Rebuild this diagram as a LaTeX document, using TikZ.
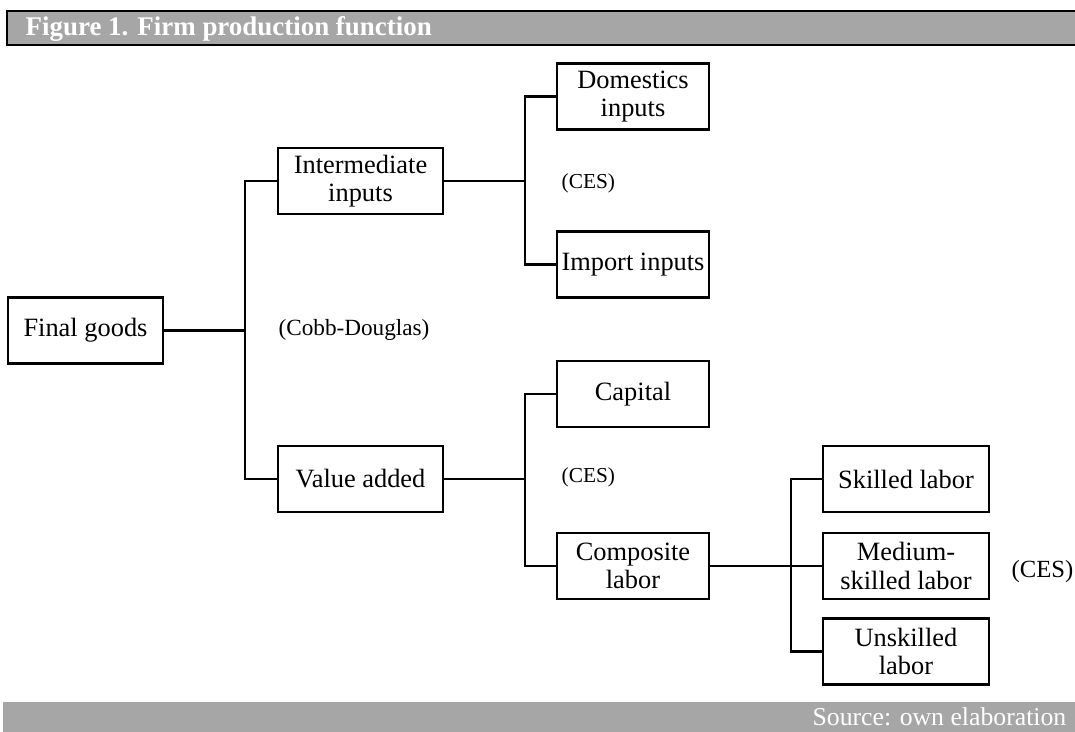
\documentclass[tikz,border=0pt]{standalone}
\usepackage{fontspec}
\setmainfont{Liberation Serif}
\usetikzlibrary{positioning}
\definecolor{bargray}{HTML}{A6A6A6}

\begin{document}
\begin{tikzpicture}[x=0.75pt,y=-0.75pt,
		box/.style={draw,line width=1.6pt,align=center,minimum height=49.5pt,inner sep=0.5pt,
			font=\fontsize{19.8}{21.5}\selectfont},
		widebox/.style={box,minimum width=124pt},
		smallbox/.style={box,minimum width=114pt},
		lbl/.style={font=\fontsize{16}{18}\selectfont},
		link/.style={line width=1.6pt}]
		\useasboundingbox (0,0) rectangle (1075,732);

		% title and source bars
		\fill[bargray] (7,11) rectangle (1075,45);
		\draw[line width=2pt] (1075,11) -- (7,11) -- (7,45) -- (1075,45);
		\node[anchor=west,text=white,font=\fontsize{20.2}{22}\selectfont\bfseries] (title) at (21,28.5) {Figure 1. Firm production function};
		\fill[bargray] (3,702) rectangle (1075,732);
		\node[anchor=east,text=white,font=\fontsize{19.3}{21}\selectfont] (source) at (1071,717) {Source: own elaboration};

		% boxes
		\node[box,minimum width=116pt] (final) at (85.5,330.5) {Final goods};
		\node[widebox] (inter) at (360.5,181) {Intermediate\\inputs};
		\node[widebox] (value) at (360.5,479) {Value added};
		\node[smallbox] (dom) at (633,96.5) {Domestics\\inputs};
		\node[smallbox] (imp) at (633,264.5) {Import inputs};
		\node[smallbox] (cap) at (633,394) {Capital};
		\node[smallbox] (comp) at (633,566) {Composite\\labor};
		\node[widebox] (skill) at (906,479) {Skilled labor};
		\node[widebox] (med) at (906,566) {Medium-\\skilled labor};
		\node[widebox] (unsk) at (906,651.5) {Unskilled\\labor};

		% branch points
		\coordinate (cd) at (245,330.5);
		\coordinate (ces1) at (525,181);
		\coordinate (ces2) at (525,479);
		\coordinate (ces3) at (791,566);

		\draw[link] (final) -- (cd);
		\draw[link] (inter.west) -| (cd) |- (value.west);
		\draw[link] (inter) -- (ces1);
		\draw[link] (dom.west) -| (ces1) |- (imp.west);
		\draw[link] (value) -- (ces2);
		\draw[link] (cap.west) -| (ces2) |- (comp.west);
		\draw[link] (comp.east) -- (med.west);
		\draw[link] (skill.west) -| (ces3) |- (unsk.west);

		% function labels
		\node[lbl,font=\fontsize{17.4}{19}\selectfont] (cdlbl) at (354,330) {(Cobb-Douglas)};
		\node[lbl,anchor=west] (ceslbl1) at (557,183) {(CES)};
		\node[lbl,anchor=west] (ceslbl2) at (557,477) {(CES)};
		\node[anchor=west,font=\fontsize{18.5}{21}\selectfont] (ceslbl3) at (1007,572) {(CES)};
	\end{tikzpicture}
\end{document}
